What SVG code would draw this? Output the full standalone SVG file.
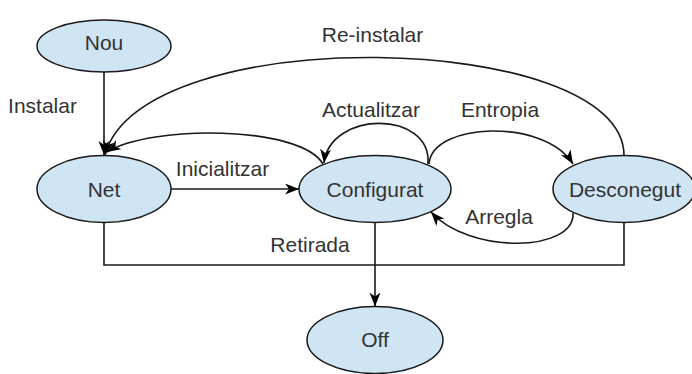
<svg xmlns="http://www.w3.org/2000/svg" width="692" height="374" viewBox="0 0 692 374">
<style>
.node{fill:#d0e5f4;stroke:#1a1a1a;stroke-width:1.5}
.lbl{font-family:"Liberation Sans",Arial,sans-serif;font-size:21px;fill:#333;text-anchor:middle}
.edge{fill:none;stroke:#1a1a1a;stroke-width:1.6}
</style>
<defs>
<marker id="arr" markerUnits="userSpaceOnUse" markerWidth="16" markerHeight="12" refX="14" refY="5.5" orient="auto">
<path d="M0,0 L14,5.5 L0,11 L4,5.5 Z" fill="#000"/>
</marker>
</defs>
<rect width="692" height="374" fill="#fff"/>
<g id="nou"><ellipse class="node" cx="104" cy="46" rx="67" ry="26"/><text class="lbl" x="104" y="50">Nou</text></g>
<g id="net"><ellipse class="node" cx="104" cy="189" rx="67" ry="33.5"/><text class="lbl" x="104" y="196.5">Net</text></g>
<g id="configurat"><ellipse class="node" cx="375" cy="189" rx="76" ry="33.5"/><text class="lbl" x="375" y="197">Configurat</text></g>
<g id="desconegut"><ellipse class="node" cx="624" cy="189" rx="71" ry="33.5"/><text class="lbl" x="625" y="197">Desconegut</text></g>
<g id="off"><ellipse class="node" cx="375" cy="340" rx="68" ry="33.5"/><text class="lbl" x="375" y="347">Off</text></g>
<g id="connectors">
<path class="edge" d="M104 72 L104 155" marker-end="url(#arr)"/>
<text class="lbl" x="42.5" y="112.5">Instalar</text>
<path class="edge" d="M624 155.5 C624 30 140 20 105 155" marker-end="url(#arr)"/>
<text class="lbl" x="372.5" y="42">Re-instalar</text>
<path class="edge" d="M323 164 C300 125 150 125 107 152" marker-end="url(#arr)"/>
<path class="edge" d="M428 164 C432 110 330 110 324 163" marker-end="url(#arr)"/>
<text class="lbl" x="371" y="116.5">Actualitzar</text>
<path class="edge" d="M429 164 C432 122 545 118 573 164" marker-end="url(#arr)"/>
<text class="lbl" x="500" y="116.5">Entropia</text>
<path class="edge" d="M573 213 C575 252 470 255 431 212" marker-end="url(#arr)"/>
<text class="lbl" x="499" y="224">Arregla</text>
<path class="edge" d="M171 189 L299 189" marker-end="url(#arr)"/>
<text class="lbl" x="222.5" y="176">Inicialitzar</text>
<path class="edge" d="M104 222.5 L104 265 L624 265 L624 222.5"/>
<path class="edge" d="M375 222.5 L375 306.5" stroke-width="2" marker-end="url(#arr)"/>
<text class="lbl" x="310" y="252">Retirada</text>
</g>
</svg>
